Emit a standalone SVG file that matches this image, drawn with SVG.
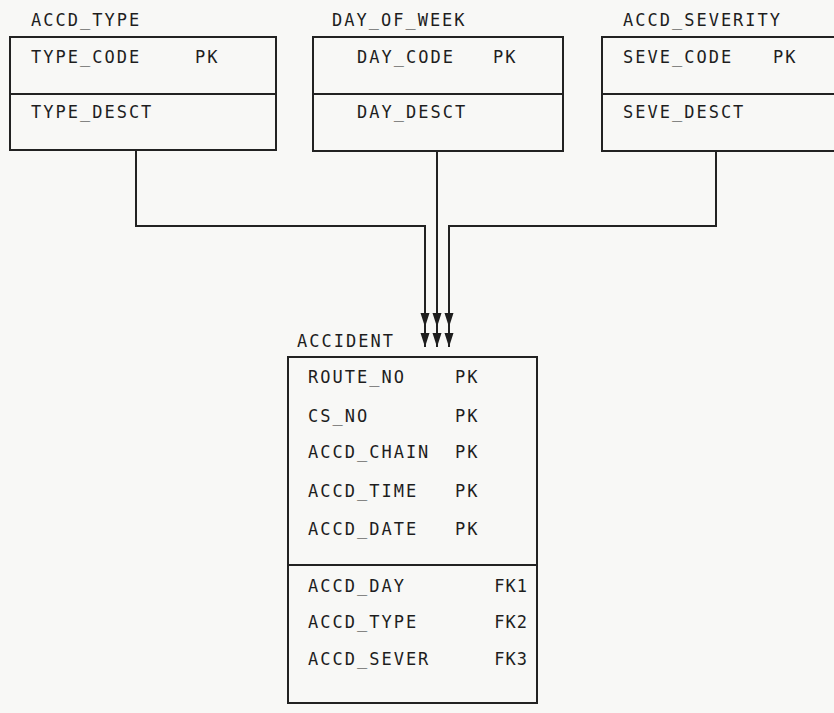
<svg xmlns="http://www.w3.org/2000/svg" width="834" height="713" viewBox="0 0 834 713">
<defs>
<style>
.bg{fill:#f8f8f6}
.box{fill:none;stroke:#222;stroke-width:2}
.ln{fill:none;stroke:#222;stroke-width:2}
.t{font-family:"DejaVu Sans Mono","Liberation Mono",monospace;font-size:17px;letter-spacing:2px;fill:#1e1e1e}
.ah{fill:#1e1e1e}
</style>
</defs>
<rect class="bg" x="0" y="0" width="834" height="713"/>

<g id="accd_type">
<text class="t" x="31" y="26">ACCD_TYPE</text>
<rect class="box" x="10" y="37" width="266" height="113"/>
<line class="ln" x1="10" y1="94" x2="276" y2="94"/>
<text class="t" x="31" y="63">TYPE_CODE</text>
<text class="t" x="195" y="63">PK</text>
<text class="t" x="31" y="118">TYPE_DESCT</text>
</g>

<g id="day_of_week">
<text class="t" x="332" y="26">DAY_OF_WEEK</text>
<rect class="box" x="313" y="37" width="250" height="114"/>
<line class="ln" x1="313" y1="94" x2="563" y2="94"/>
<text class="t" x="357" y="63">DAY_CODE</text>
<text class="t" x="493" y="63">PK</text>
<text class="t" x="357" y="118">DAY_DESCT</text>
</g>

<g id="accd_severity">
<text class="t" x="623" y="26">ACCD_SEVERITY</text>
<rect class="box" x="602" y="37" width="250" height="114"/>
<line class="ln" x1="602" y1="94" x2="852" y2="94"/>
<text class="t" x="623" y="63">SEVE_CODE</text>
<text class="t" x="773" y="63">PK</text>
<text class="t" x="623" y="118">SEVE_DESCT</text>
</g>

<g id="accident">
<text class="t" x="297" y="347">ACCIDENT</text>
<rect class="box" x="288" y="357" width="249" height="346"/>
<line class="ln" x1="288" y1="565" x2="537" y2="565"/>
<text class="t" x="308" y="383">ROUTE_NO</text>
<text class="t" x="455" y="383">PK</text>
<text class="t" x="308" y="422">CS_NO</text>
<text class="t" x="455" y="422">PK</text>
<text class="t" x="308" y="458">ACCD_CHAIN</text>
<text class="t" x="455" y="458">PK</text>
<text class="t" x="308" y="497">ACCD_TIME</text>
<text class="t" x="455" y="497">PK</text>
<text class="t" x="308" y="535">ACCD_DATE</text>
<text class="t" x="455" y="535">PK</text>
<text class="t" x="308" y="592">ACCD_DAY</text>
<text class="t" x="528" y="592" text-anchor="end" style="letter-spacing:1px">FK1</text>
<text class="t" x="308" y="628">ACCD_TYPE</text>
<text class="t" x="528" y="628" text-anchor="end" style="letter-spacing:1px">FK2</text>
<text class="t" x="308" y="665">ACCD_SEVER</text>
<text class="t" x="528" y="665" text-anchor="end" style="letter-spacing:1px">FK3</text>
</g>

<g id="connectors">
<polyline class="ln" points="136,150 136,226 425,226 425,347"/>
<polyline class="ln" points="437,151 437,347"/>
<polyline class="ln" points="716,151 716,226 449,226 449,347"/>
<path class="ah" d="M420.5,313 L429.5,313 L425,327 Z M420.5,333 L429.5,333 L425,347 Z"/>
<path class="ah" d="M432.5,313 L441.5,313 L437,327 Z M432.5,333 L441.5,333 L437,347 Z"/>
<path class="ah" d="M444.5,313 L453.5,313 L449,327 Z M444.5,333 L453.5,333 L449,347 Z"/>
</g>
</svg>
